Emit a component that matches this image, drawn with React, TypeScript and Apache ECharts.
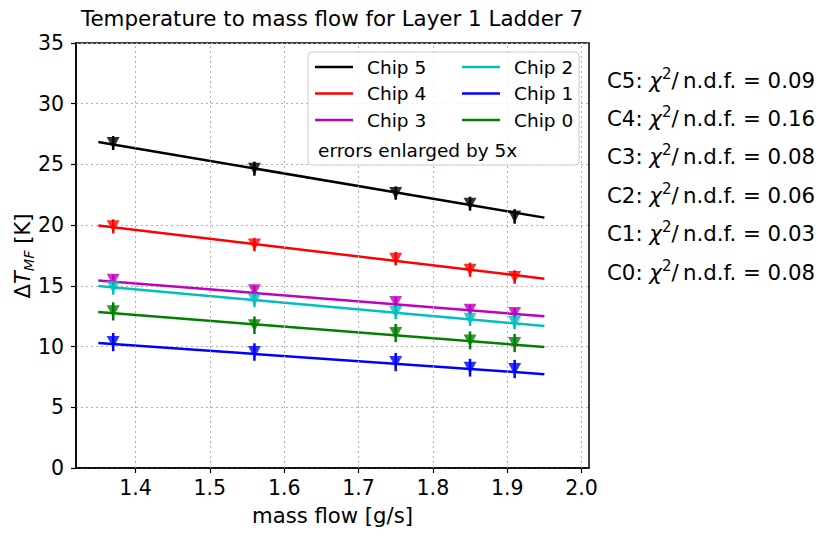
import React, { useEffect, useRef } from "react";
import * as echarts from "echarts";

const FONT = "DejaVu Sans";

const massFlow = [1.37, 1.56, 1.75, 1.85, 1.91];
const fitRange = [1.35, 1.95];

const chipNames = ["Chip 5", "Chip 4", "Chip 3", "Chip 2", "Chip 1", "Chip 0"];
const chipColors = ["#000000", "#ff0000", "#bf00bf", "#00bfbf", "#0000ff", "#008000"];

const chip5 = [26.76, 24.65, 22.64, 21.77, 20.72];
const chip4 = [19.9, 18.4, 17.24, 16.33, 15.73];
const chip3 = [15.5, 14.63, 13.67, 13.04, 12.76];
const chip2 = [14.9, 13.86, 12.84, 12.3, 12.02];
const chip1 = [10.37, 9.55, 8.72, 8.26, 8.15];
const chip0 = [12.9, 11.75, 11.11, 10.51, 10.29];

const err5 = [0.58, 0.58, 0.55, 0.58, 0.6];
const err4 = [0.58, 0.55, 0.55, 0.58, 0.55];
const err3 = [0.42, 0.42, 0.42, 0.42, 0.42];
const err2 = [0.62, 0.6, 0.6, 0.6, 0.6];
const err1 = [0.75, 0.72, 0.75, 0.73, 0.75];
const err0 = [0.75, 0.72, 0.75, 0.74, 0.75];

const fit5 = [26.85, 20.62];
const fit4 = [19.98, 15.59];
const fit3 = [15.45, 12.49];
const fit2 = [14.98, 11.69];
const fit1 = [10.29, 7.73];
const fit0 = [12.84, 9.96];

const chiLabels = ["C5", "C4", "C3", "C2", "C1", "C0"];
const chiValues = ["0.09", "0.16", "0.08", "0.06", "0.03", "0.08"];

const xTicks = [1.4, 1.5, 1.6, 1.7, 1.8, 1.9, 2.0];

const values = [chip5, chip4, chip3, chip2, chip1, chip0];
const errors = [err5, err4, err3, err2, err1, err0];
const fits = [fit5, fit4, fit3, fit2, fit1, fit0];

export default function App() {
  const ref = useRef<HTMLDivElement>(null);
  useEffect(() => {
    if (!ref.current) return;
    const chart = echarts.init(ref.current, null, { renderer: "svg" });

    const series: any[] = [];
    series.push({
      type: "line",
      name: "xgrid",
      data: [],
      symbol: "none",
      silent: true,
      z: 1,
      markLine: {
        silent: true,
        symbol: "none",
        label: { show: false },
        lineStyle: { type: [2, 3], color: "#b0b0b0", width: 1 },
        data: xTicks.map((v) => ({ xAxis: v })),
      },
    });

    chipNames.forEach((name, ci) => {
      const color = chipColors[ci];
      series.push({
        type: "line",
        name,
        color,
        data: fitRange.map((x, i) => [x, fits[ci][i]]),
        symbol: "none",
        lineStyle: { width: 2.5, color },
        z: 3,
      });
      series.push({
        type: "custom",
        name: name + " errors",
        data: massFlow.map((x, i) => [x, values[ci][i] - errors[ci][i], values[ci][i] + errors[ci][i]]),
        encode: { x: 0, y: [1, 2] },
        renderItem: (params: any, api: any) => {
          const x = api.value(0);
          const p1 = api.coord([x, api.value(1)]);
          const p2 = api.coord([x, api.value(2)]);
          return {
            type: "line",
            shape: { x1: p1[0], y1: p1[1], x2: p2[0], y2: p2[1] },
            style: { stroke: color, lineWidth: 2.5 },
          };
        },
        z: 4,
      });
      series.push({
        type: "scatter",
        name: name + " data",
        data: massFlow.map((x, i) => [x, values[ci][i]]),
        symbol: "triangle",
        symbolRotate: 180,
        symbolSize: [13, 12],
        itemStyle: { color },
        z: 5,
      });
    });

    const legendCommon = {
      orient: "vertical",
      top: 57,
      icon: "rect",
      itemWidth: 38,
      itemHeight: 2.5,
      itemGap: 6.5,
      padding: 0,
      selectedMode: false,
      z: 10,
      textStyle: { fontSize: 18.5, fontFamily: FONT, color: "#000", lineHeight: 20, padding: [0, 0, 0, 9] },
    };

    const chiGraphics = chiLabels.map((lab, i) => ({
      type: "text",
      x: 607,
      y: 80 + i * 38.4,
      style: {
        text: `{n|${lab}: }{chi|χ}{sup|2}{n|/\u2009n.d.f. = ${chiValues[i]}}`,
        align: "left",
        verticalAlign: "middle",
        fill: "#000",
        rich: {
          n: { fontSize: 21.3, fontFamily: FONT, color: "#000", lineHeight: 28 },
          chi: { fontSize: 21.3, fontFamily: FONT, fontStyle: "italic", color: "#000", lineHeight: 28 },
          sup: { fontSize: 15, fontFamily: FONT, color: "#000", lineHeight: 14, verticalAlign: "top" },
        },
      },
    }));

    const option: any = {
      animation: false,
      backgroundColor: "#fff",
      title: {
        text: "Temperature to mass flow for Layer 1 Ladder 7",
        left: 332,
        top: 8,
        textAlign: "center",
        padding: 0,
        textStyle: { fontSize: 21.4, fontFamily: FONT, fontWeight: "normal", color: "#000" },
      },
      grid: {
        left: 76,
        top: 43,
        right: 241,
        bottom: 69,
        show: true,
        borderColor: "#000",
        borderWidth: 1.5,
        backgroundColor: "transparent",
        containLabel: false,
        outerBoundsMode: "none",
      },
      xAxis: {
        type: "value",
        min: 1.32,
        max: 2.01,
        name: "mass flow [g/s]",
        nameLocation: "middle",
        nameGap: 37,
        nameTextStyle: { fontSize: 21.2, fontFamily: FONT, color: "#000" },
        axisLine: { show: true, lineStyle: { color: "#000", width: 1.5 } },
        axisTick: { show: true, length: 5, inside: false, customValues: xTicks, lineStyle: { color: "#000", width: 1.2 } },
        axisLabel: {
          customValues: xTicks,
          margin: 9,
          fontSize: 20.5,
          fontFamily: FONT,
          color: "#000",
          formatter: (v: number) => v.toFixed(1),
        },
        splitLine: { show: false },
      },
      yAxis: {
        type: "value",
        min: 0,
        max: 35,
        interval: 5,
        axisLine: { show: true, lineStyle: { color: "#000", width: 1.5 } },
        axisTick: { show: true, length: 5, inside: false, lineStyle: { color: "#000", width: 1.2 } },
        axisLabel: { margin: 12, fontSize: 20.5, fontFamily: FONT, color: "#000" },
        splitLine: { show: true, lineStyle: { type: [2, 3], color: "#b0b0b0", width: 1 } },
      },
      legend: [
        { ...legendCommon, left: 315, data: chipNames.slice(0, 3) },
        { ...legendCommon, left: 462, data: chipNames.slice(3, 6) },
      ],
      graphic: [
        {
          type: "rect",
          z: 8,
          shape: { x: 308, y: 52, width: 271, height: 113, r: 4 },
          style: { fill: "rgba(255,255,255,0.85)", stroke: "#cccccc", lineWidth: 1 },
        },
        {
          type: "text",
          z: 10,
          x: 318,
          y: 150,
          style: {
            text: "errors enlarged by 5x",
            fontSize: 18.5,
            fontFamily: FONT,
            fill: "#000",
            align: "left",
            verticalAlign: "middle",
          },
        },
        {
          type: "text",
          x: 23,
          y: 256,
          rotation: Math.PI / 2,
          style: {
            text: "{n|Δ}{it|T}{sub|MF}{n| [K]}",
            align: "center",
            verticalAlign: "middle",
            fill: "#000",
            rich: {
              n: { fontSize: 21, fontFamily: FONT, color: "#000", lineHeight: 26 },
              it: { fontSize: 21, fontFamily: FONT, fontStyle: "italic", color: "#000", lineHeight: 26 },
              sub: { fontSize: 14.5, fontFamily: FONT, fontStyle: "italic", color: "#000", lineHeight: 14, verticalAlign: "bottom" },
            },
          },
        },
        ...chiGraphics,
      ],
      series,
    };

    chart.setOption(option);
    return () => chart.dispose();
  }, []);

  return (
    <div
      ref={ref}
      style={{ position: "absolute", left: 0, top: 0, width: 830, height: 537 }}
    />
  );
}
